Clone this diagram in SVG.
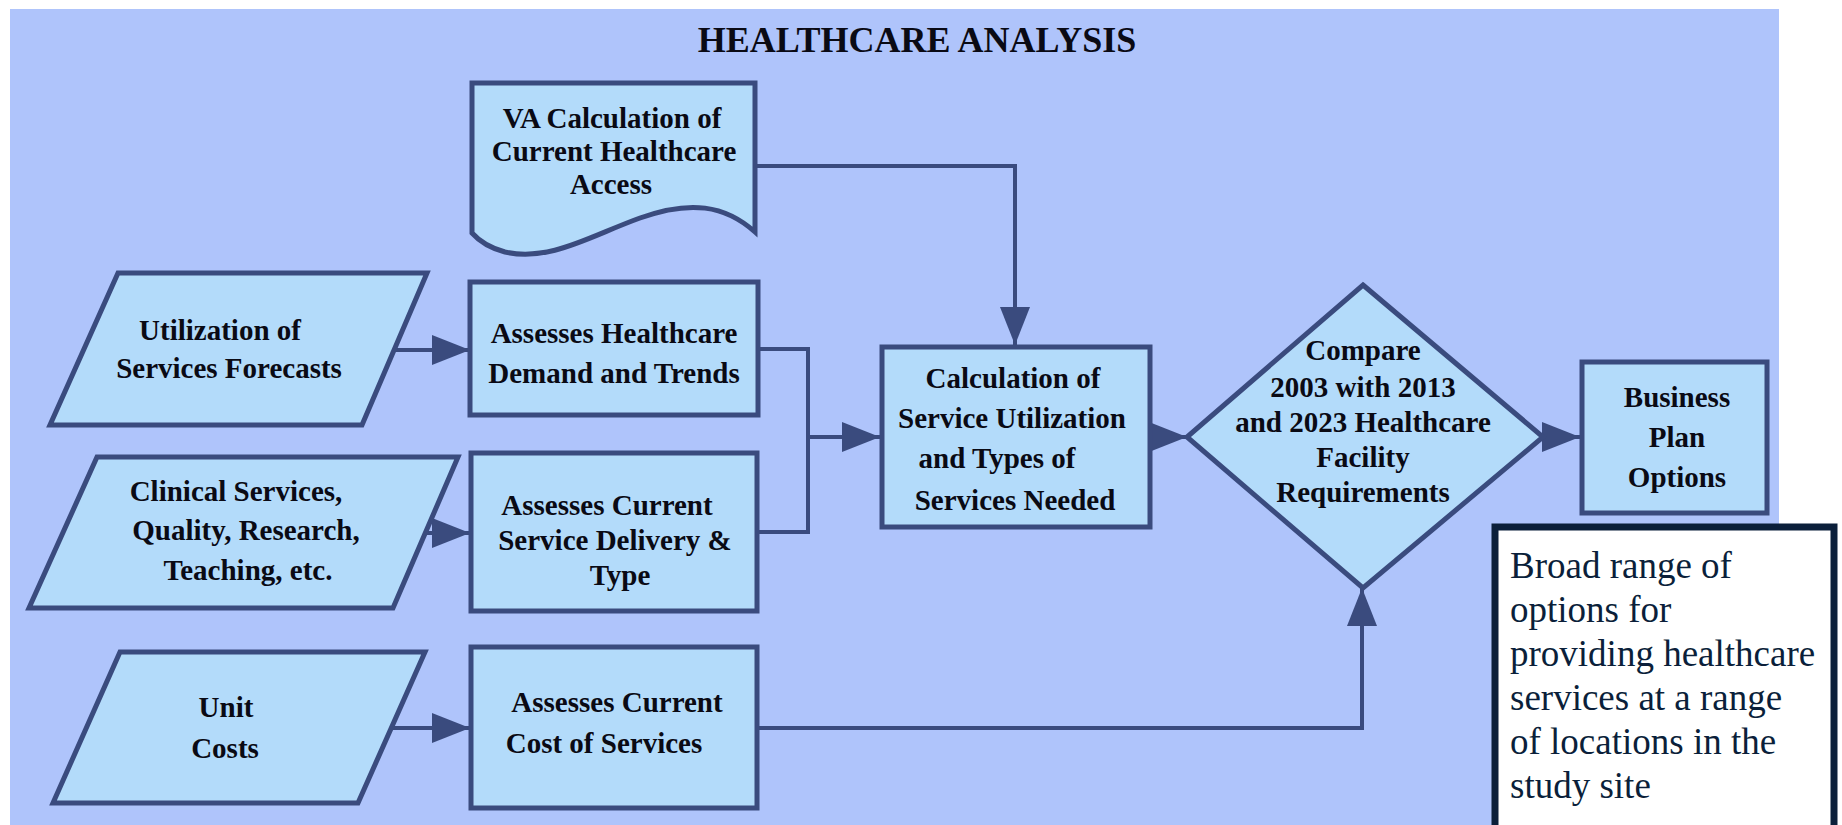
<svg xmlns="http://www.w3.org/2000/svg" width="1842" height="825" viewBox="0 0 1842 825">
<style>
.node{fill:#B3DBFA;stroke:#3A4B7E;stroke-width:5;stroke-linejoin:miter}
.t{font-family:"Liberation Serif","Times New Roman",serif;font-weight:bold;font-size:29px;fill:#0A0A14;text-anchor:middle}
.c{fill:none;stroke:#3A4B7E;stroke-width:4}
.note{font-family:"Liberation Serif","Times New Roman",serif;font-size:37px;fill:#0B1F3A}
</style>
<defs>
<marker id="ah" markerUnits="userSpaceOnUse" markerWidth="38" markerHeight="30" refX="38" refY="15" orient="auto">
<path d="M0,0 L38,15 L0,30 Z" fill="#3A4B7E"/>
</marker>
</defs>
<rect x="0" y="0" width="1842" height="825" fill="#FFFFFF"/>
<rect x="10" y="9" width="1769" height="816" fill="#AFC4FB"/>
<text x="917" y="52" class="t" style="font-size:36px">HEALTHCARE ANALYSIS</text>

<g id="connectors">
<line class="c" x1="392" y1="350" x2="470" y2="350" marker-end="url(#ah)"/>
<line class="c" x1="425" y1="533" x2="470" y2="533" marker-end="url(#ah)"/>
<line class="c" x1="392" y1="728" x2="470" y2="728" marker-end="url(#ah)"/>
<polyline class="c" points="755,166 1015,166 1015,345" marker-end="url(#ah)"/>
<polyline class="c" points="758,349 808,349 808,532 757,532"/>
<line class="c" x1="808" y1="437" x2="880" y2="437" marker-end="url(#ah)"/>
<line class="c" x1="1150" y1="437" x2="1187" y2="437" marker-end="url(#ah)"/>
<line class="c" x1="1543" y1="437" x2="1580" y2="437" marker-end="url(#ah)"/>
<polyline class="c" points="757,728 1362,728 1362,588" marker-end="url(#ah)"/>
</g>

<g id="va-calc">
<path class="node" d="M472,83 L755,83 L755,232 C725,205 690,200 640,218 C590,236 550,262 505,252 C490,248 480,242 472,233 Z"/>
<text class="t" x="612" y="128">VA Calculation of</text>
<text class="t" x="614" y="161">Current Healthcare</text>
<text class="t" x="611" y="194">Access</text>
</g>

<g id="utilization">
<polygon class="node" points="118,273 427,273 362,425 50,425"/>
<text class="t" x="220" y="340">Utilization of</text>
<text class="t" x="229" y="378">Services Forecasts</text>
</g>

<g id="clinical">
<polygon class="node" points="97,457 458,457 393,608 29,608"/>
<text class="t" x="236" y="501">Clinical Services,</text>
<text class="t" x="246" y="540">Quality, Research,</text>
<text class="t" x="248" y="580">Teaching, etc.</text>
</g>

<g id="unit-costs">
<polygon class="node" points="120,652 425,652 358,803 53,803"/>
<text class="t" x="226" y="717">Unit</text>
<text class="t" x="225" y="758">Costs</text>
</g>

<g id="assess-demand">
<rect class="node" x="470" y="282" width="288" height="133"/>
<text class="t" x="614" y="343">Assesses Healthcare</text>
<text class="t" x="614" y="383">Demand and Trends</text>
</g>

<g id="assess-delivery">
<rect class="node" x="471" y="453" width="286" height="158"/>
<text class="t" x="607" y="515">Assesses Current</text>
<text class="t" x="615" y="550">Service Delivery &amp;</text>
<text class="t" x="620" y="585">Type</text>
</g>

<g id="assess-cost">
<rect class="node" x="471" y="647" width="286" height="161"/>
<text class="t" x="617" y="712">Assesses Current</text>
<text class="t" x="604" y="753">Cost of Services</text>
</g>

<g id="calc-utilization">
<rect class="node" x="882" y="347" width="268" height="180"/>
<text class="t" x="1013" y="388">Calculation of</text>
<text class="t" x="1012" y="428">Service Utilization</text>
<text class="t" x="997" y="468">and Types of</text>
<text class="t" x="1015" y="510">Services Needed</text>
</g>

<g id="compare">
<polygon class="node" points="1363,285 1543,437 1363,588 1187,437"/>
<text class="t" x="1363" y="360">Compare</text>
<text class="t" x="1363" y="397">2003 with 2013</text>
<text class="t" x="1363" y="432">and 2023 Healthcare</text>
<text class="t" x="1363" y="467">Facility</text>
<text class="t" x="1363" y="502">Requirements</text>
</g>

<g id="business">
<rect class="node" x="1582" y="362" width="185" height="151"/>
<text class="t" x="1677" y="407">Business</text>
<text class="t" x="1677" y="447">Plan</text>
<text class="t" x="1677" y="487">Options</text>
</g>

<g id="note">
<rect x="1495" y="527" width="339" height="330" fill="#FFFFFF" stroke="#0B1F3A" stroke-width="7"/>
<text class="note" x="1510" y="578">Broad range of</text>
<text class="note" x="1510" y="622">options for</text>
<text class="note" x="1510" y="666">providing healthcare</text>
<text class="note" x="1510" y="710">services at a range</text>
<text class="note" x="1510" y="754">of locations in the</text>
<text class="note" x="1510" y="798">study site</text>
</g>
</svg>
